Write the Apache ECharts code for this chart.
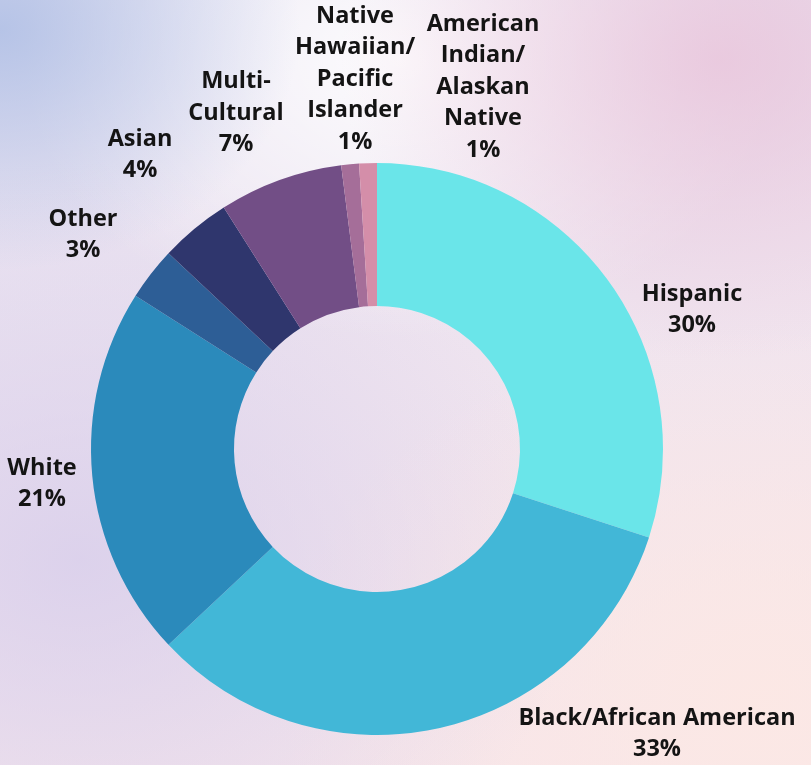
<!DOCTYPE html>
<html>
<head>
<meta charset="utf-8">
<script src="https://cdn.jsdelivr.net/npm/echarts@6/dist/echarts.min.js"></script>
<style>
  html, body { margin: 0; padding: 0; }
  body {
    width: 811px; height: 765px; overflow: hidden;
    background:
      radial-gradient(ellipse 300px 240px at 0px 30px, rgba(170,188,228,0.8), rgba(170,188,228,0) 100%),
      radial-gradient(ellipse 380px 300px at 720px 60px, rgba(232,192,216,0.75), rgba(232,192,216,0) 100%),
      radial-gradient(ellipse 380px 280px at 400px 60px, rgba(255,255,255,0.9), rgba(255,255,255,0) 100%),
      radial-gradient(ellipse 500px 400px at 80px 560px, rgba(215,205,235,0.8), rgba(215,205,235,0) 100%),
      radial-gradient(ellipse 500px 380px at 760px 700px, rgba(252,232,228,0.9), rgba(252,232,228,0) 100%),
      linear-gradient(160deg, #e6e2f2 0%, #efe4ef 50%, #f8e6ea 100%);
  }
  #chart { width: 811px; height: 765px; }
</style>
</head>
<body>
<div id="chart"></div>
<script>
  const categories = ['Hispanic', 'Black/African American', 'White', 'Other', 'Asian',
    'Multi-\nCultural', 'Native\nHawaiian/\nPacific\nIslander', 'American\nIndian/\nAlaskan\nNative']
  const values = [30, 33, 21, 3, 4, 7, 1, 1]
  const colorList = ['#6ae5e9', '#42b7d7', '#2b8abb', '#2d5e96', '#2f366d', '#724e86', '#a56e99', '#d48ea9']

  // label block centres, picked by hand to follow the reference
  const labelSpots = [
    [692, 310], [657, 734], [42, 484], [83, 235],
    [140, 155], [236, 113], [355, 79], [483, 87],
  ]

  const chart = echarts.init(document.getElementById('chart'))
  chart.setOption({
    backgroundColor: 'transparent',
    animation: false,
    series: [
      {
        type: 'pie',
        center: [377, 449],
        radius: [143, 286],
        startAngle: 90,
        clockwise: true,
        label: {
          show: true,
          position: 'outside',
          formatter: '{b}\n{c}%',
          fontFamily: 'Open Sans',
          fontWeight: 'bold',
          fontSize: 23.5,
          lineHeight: 31.5,
          color: '#141414',
          align: 'center',
          overflow: 'none',
          width: 400,
        },
        labelLine: { show: false },
        labelLayout: (params) => {
          const p = labelSpots[params.dataIndex]
          return { x: p[0], y: p[1], align: 'center', verticalAlign: 'middle', hideOverlap: false }
        },
        itemStyle: { borderWidth: 0 },
        data: categories.map((name, i) => ({
          name,
          value: values[i],
          itemStyle: { color: colorList[i] },
        })),
      },
    ],
  })
</script>
</body>
</html>
